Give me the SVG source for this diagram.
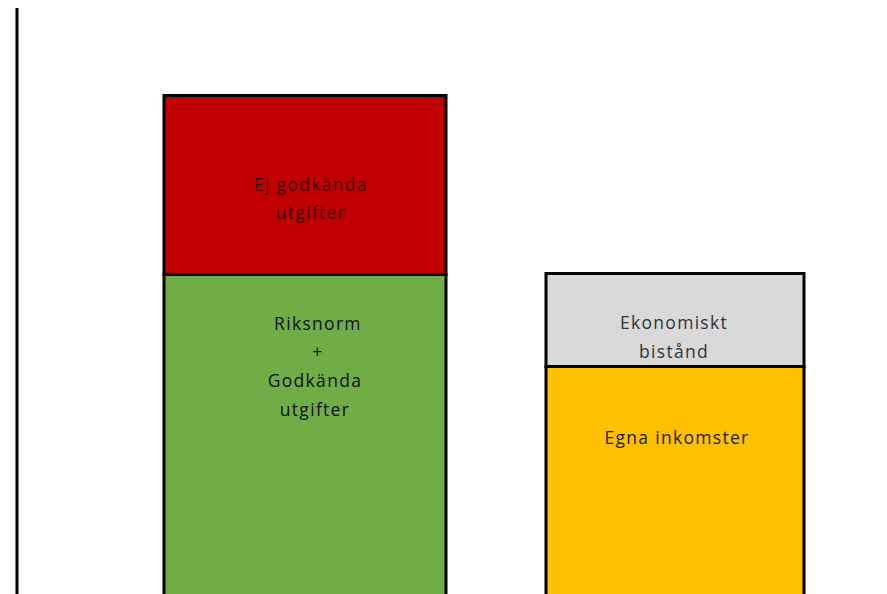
<svg xmlns="http://www.w3.org/2000/svg" width="887" height="594" viewBox="0 0 887 594">
<style>
.box{stroke:#000;stroke-width:3}
.t{font-family:"Open Sans","Liberation Sans",sans-serif;font-size:17.5px;text-anchor:middle;letter-spacing:1.3px}
</style>
<rect width="887" height="594" fill="#fff"/>
<g id="axis"><line x1="17" y1="8" x2="17" y2="594" stroke="#000" stroke-width="3"/></g>
<g id="ej-godkanda">
<rect class="box" x="164" y="95.5" width="282" height="179" fill="#c00000"/>
<text class="t" x="311" y="191" fill="#3a0000">Ej godkända</text>
<text class="t" x="311" y="219" fill="#3a0000">utgifter</text>
</g>
<g id="riksnorm">
<rect class="box" x="164" y="274.5" width="282" height="330" fill="#70ad47"/>
<text class="t" x="318" y="330" fill="#111">Riksnorm</text>
<text class="t" x="318" y="358" fill="#111">+</text>
<text class="t" x="315" y="387" fill="#111">Godkända</text>
<text class="t" x="315" y="416" fill="#111">utgifter</text>
</g>
<g id="ekonomiskt-bistand">
<rect class="box" x="546" y="273.5" width="258" height="93" fill="#d9d9d9"/>
<text class="t" x="674" y="329" fill="#333">Ekonomiskt</text>
<text class="t" x="674" y="358" fill="#333">bistånd</text>
</g>
<g id="egna-inkomster">
<rect class="box" x="546" y="366.5" width="258" height="240" fill="#ffc000"/>
<text class="t" x="677" y="444" fill="#222">Egna inkomster</text>
</g>
<g id="connectors"/>
</svg>
